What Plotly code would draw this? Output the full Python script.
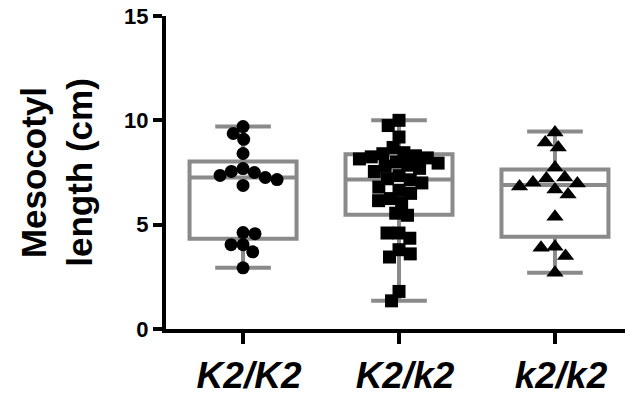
import math
import plotly.graph_objects as go

# ---- data ----
categories = ["K2/K2", "K2/k2", "k2/k2"]

k2k2_vals = [9.7, 9.37, 9.09, 8.41, 7.69, 7.55, 7.5, 7.36, 7.26, 7.16, 6.88,
             4.62, 4.57, 4.04, 4.04, 3.7, 2.93]
k2k2het_vals = [10.0, 9.75, 9.2, 8.7, 8.45, 8.4, 8.3, 8.25, 8.2, 8.15, 8.0, 7.95,
                7.85, 7.8, 7.7, 7.55, 7.35, 7.2, 7.15, 7.0, 6.8, 6.65, 6.5, 6.25,
                6.15, 6.05, 5.55, 5.45, 4.6, 4.6, 4.35, 3.8, 3.6, 3.45, 1.8, 1.35]
k2k2rec_vals = [9.42, 8.94, 8.7, 7.74, 7.26, 7.21, 7.02, 6.97, 6.83, 6.68, 6.44,
                5.38, 3.94, 3.89, 3.5, 2.69]

box_min = [2.93, 1.35, 2.69]
box_q1 = [4.33, 5.48, 4.42]
box_median = [7.26, 7.16, 6.9]
box_q3 = [8.03, 8.37, 7.64]
box_max = [9.7, 10.0, 9.47]

groups = [k2k2_vals, k2k2het_vals, k2k2rec_vals]
symbols = ["circle", "square", "triangle-up"]
sizes = [13, 13, 15]

# ---- layout constants ----
W, H = 625, 394
ML, MR, MT, MB = 166, 0, 16, 65
XR = [-0.494, 2.449]
YR = [0, 15]
px_per_x = (W - ML - MR) / (XR[1] - XR[0])
px_per_y = (H - MT - MB) / (YR[1] - YR[0])


def swarm(vals, d):
    """Greedy beeswarm offsets (data units on x) so markers do not overlap."""
    order = sorted(range(len(vals)), key=lambda i: -vals[i])
    placed = []
    xs = [0.0] * len(vals)
    for k, i in enumerate(order):
        y = vals[i] * px_per_y
        cands = [0.0]
        for (px, py) in placed:
            dy = abs(py - y)
            if dy < d:
                dx = math.sqrt(d * d - dy * dy)
                cands += [px + dx, px - dx]
        cands.sort(key=lambda c: (round(abs(c), 3), c if k % 2 else -c))
        chosen = 0.0
        for c in cands:
            if all((c - px) ** 2 + (y - py) ** 2 >= d * d - 1e-6 for px, py in placed):
                chosen = c
                break
        placed.append((chosen, y))
        xs[i] = chosen / px_per_x
    return xs


fig = go.Figure()
grey = "#8a8a8a"
for g in range(3):
    fig.add_trace(go.Box(
        x=[g], q1=[box_q1[g]], median=[box_median[g]], q3=[box_q3[g]],
        lowerfence=[box_min[g]], upperfence=[box_max[g]],
        width=0.686, whiskerwidth=0.52,
        line=dict(color=grey, width=4), fillcolor="rgba(0,0,0,0)",
        boxpoints=False, showlegend=False, hoverinfo="skip",
    ))

for g, vals in enumerate(groups):
    offs = swarm(vals, sizes[g] - 1.0)
    fig.add_trace(go.Scatter(
        x=[g + o for o in offs], y=vals, mode="markers",
        marker=dict(symbol=symbols[g], size=sizes[g], color="black",
                    line=dict(width=0)),
        showlegend=False,
    ))

font_family = "Liberation Sans, Arial, Helvetica, sans-serif"
fig.update_layout(
    width=W, height=H,
    margin=dict(l=ML, r=MR, t=MT, b=MB, pad=0, autoexpand=False),
    paper_bgcolor="white", plot_bgcolor="white",
    font=dict(family=font_family, color="black"),
    xaxis=dict(
        range=XR, tickmode="array", tickvals=[0, 1, 2], ticktext=categories,
        automargin=False, ticklabelshift=6,
        showgrid=False, zeroline=False, showline=True, linecolor="black",
        linewidth=4, ticks="outside", ticklen=11, tickwidth=4, tickcolor="black",
        tickfont=dict(size=37, weight="bold", style="italic", family=font_family),
    ),
    yaxis=dict(
        range=YR, tickmode="array", tickvals=[0, 5, 10, 15],
        automargin=False,
        showgrid=False, zeroline=False, showline=True, linecolor="black",
        linewidth=4, ticks="outside", ticklen=9, tickwidth=4, tickcolor="black",
        tickfont=dict(size=22, weight="bold", family=font_family),
        title=dict(text="Mesocotyl<br>length (cm)", standoff=22,
                   font=dict(size=35, weight="bold", family=font_family)),
    ),
)

fig.write_html("out.html",
               config={"displayModeBar": False},
               post_script="document.body.style.margin='0px';"
                           "document.body.style.overflow='hidden';")
